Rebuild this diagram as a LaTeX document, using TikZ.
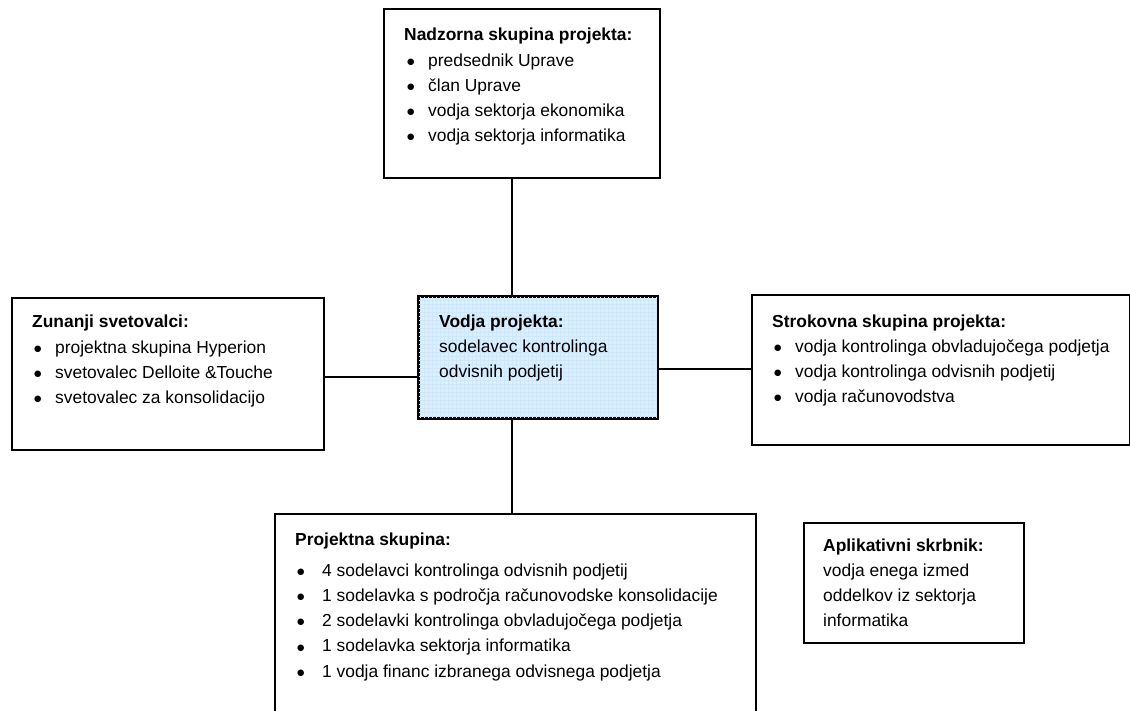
\documentclass[tikz,border=0pt]{standalone}
\usepackage{fontspec}
\setmainfont{Liberation Sans}
\newfontfamily\symfont{DejaVu Sans}
% bullet line: left shift, bullet column width, text
\newcommand{\bul}{\raisebox{1.8pt}{\symfont\fontsize{8.5}{8.5}\selectfont ●}}
\newcommand{\itm}[3]{\hspace*{#1}\makebox[#2][l]{\bul}#3}
\definecolor{leadfill}{RGB}{220,239,253}
\definecolor{leadgrid}{RGB}{207,231,250}
\begin{document}
\begin{tikzpicture}[x=1pt,y=-1pt,
  box/.style={draw=black,line width=2pt,fill=white,inner sep=0pt,anchor=north west},
  link/.style={draw=black,line width=1.8pt},
  txt/.style={anchor=base west,inner sep=0pt,font=\fontsize{17.4}{25.2}\selectfont},
]
\clip (0,0) rectangle (1130,711);
\fill[white] (0,0) rectangle (1130,711);

% boxes
\node[box,minimum width=276pt,minimum height=169pt] (top) at (383,8) {};
\node[box,fill=leadfill,minimum width=238pt,minimum height=121pt] (lead) at (418,296) {};
\begin{scope}
  \clip (lead.north west) rectangle (lead.south east);
  \draw[leadgrid,line width=0.3pt] (lead.north west) grid[step=4pt] (lead.south east);
\end{scope}
\draw[line width=2pt] (lead.north west) rectangle (lead.south east);
\node[box,minimum width=312pt,minimum height=152pt] (ext) at (11,297) {};
\node[box,minimum width=378pt,minimum height=150pt] (expert) at (751,294) {};
\node[box,minimum width=481pt,minimum height=240pt] (team) at (274,513) {};
\node[box,minimum width=220pt,minimum height=120pt] (app) at (803,522) {};

% connectors
\coordinate (vx) at (512,0);
\coordinate (hl) at (0,377);
\coordinate (hr) at (0,369);
\draw[link] (top.south -| vx) -- (lead.north -| vx);
\draw[link] (lead.south -| vx) -- (team.north -| vx);
\draw[link] (ext.east |- hl) -- (lead.west |- hl);
\draw[link] (lead.east |- hr) -- (expert.west |- hr);

% texts
\node[txt] (ttop) at (404,41) {\begin{tabular}[t]{@{}l@{}}
\textbf{Nadzorna skupina projekta:}\\
\itm{3pt}{21pt}{predsednik Uprave}\\
\itm{3pt}{21pt}{član Uprave}\\
\itm{3pt}{21pt}{vodja sektorja ekonomika}\\
\itm{3pt}{21pt}{vodja sektorja informatika}
\end{tabular}};

\node[txt] (tlead) at (439,327) {\begin{tabular}[t]{@{}l@{}}
\textbf{Vodja projekta:}\\
sodelavec kontrolinga\\
odvisnih podjetij
\end{tabular}};

\node[txt] (text) at (32,328) {\begin{tabular}[t]{@{}l@{}}
\textbf{Zunanji svetovalci:}\\
\itm{2pt}{21pt}{projektna skupina Hyperion}\\
\itm{2pt}{21pt}{svetovalec Delloite \&Touche}\\
\itm{2pt}{21pt}{svetovalec za konsolidacijo}
\end{tabular}};

\node[txt] (texpert) at (772,327) {\begin{tabular}[t]{@{}l@{}}
\textbf{Strokovna skupina projekta:}\\
\itm{2pt}{21pt}{vodja kontrolinga obvladujočega podjetja}\\
\itm{2pt}{21pt}{vodja kontrolinga odvisnih podjetij}\\
\itm{2pt}{21pt}{vodja računovodstva}
\end{tabular}};

\node[txt] (tteam) at (295,545) {\begin{tabular}[t]{@{}l@{}}
\textbf{Projektna skupina:}\\[6pt]
\itm{2pt}{25pt}{4 sodelavci kontrolinga odvisnih podjetij}\\
\itm{2pt}{25pt}{1 sodelavka s področja računovodske konsolidacije}\\
\itm{2pt}{25pt}{2 sodelavki kontrolinga obvladujočega podjetja}\\
\itm{2pt}{25pt}{1 sodelavka sektorja informatika}\\
\itm{2pt}{25pt}{1 vodja financ izbranega odvisnega podjetja}
\end{tabular}};

\node[txt] (tapp) at (823,551) {\begin{tabular}[t]{@{}l@{}}
\textbf{Aplikativni skrbnik:}\\
vodja enega izmed\\
oddelkov iz sektorja\\
informatika
\end{tabular}};
\end{tikzpicture}
\end{document}
